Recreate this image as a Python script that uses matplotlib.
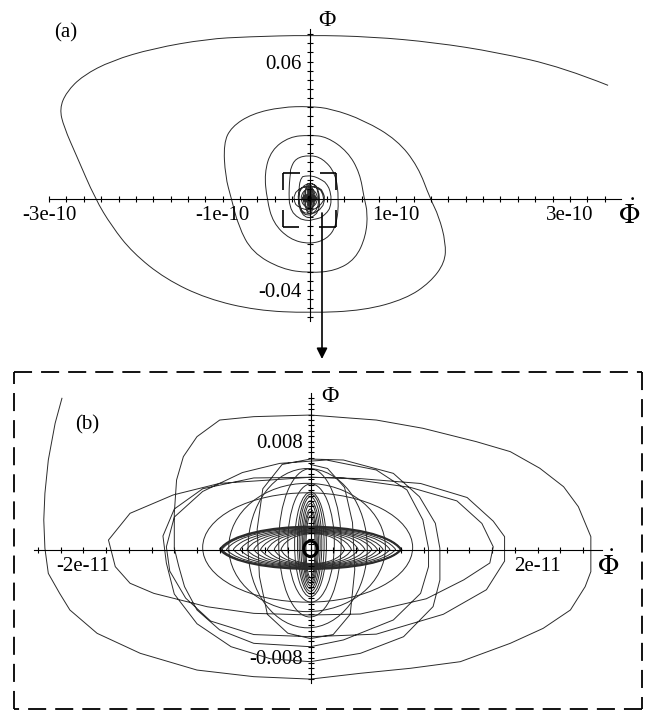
import matplotlib
matplotlib.use("Agg")
import matplotlib.pyplot as plt
import numpy as np
from matplotlib.patches import Ellipse, PathPatch, FancyArrowPatch
from matplotlib.path import Path
from matplotlib.lines import Line2D

plt.rcParams['font.family'] = ['Liberation Serif', 'DejaVu Serif']
plt.rcParams['mathtext.fontset'] = 'stix'

# ---------------- data ----------------
# Panel (a): outer spiral of the trajectory (x in units of 1e-10, y raw Phi)
a_x = [3.44, 2.92, 2.16, 1.44, 0.72, 0.00, -0.71, -1.18, -1.80, -2.28, -2.61, -2.80,
       -2.88, -2.83, -2.68, -2.47, -2.28, -2.04, -1.66, -1.18, -0.61, 0.00, 0.63, 1.11,
       1.39, 1.56, 1.57, 1.49, 1.39, 1.25, 1.01, 0.63, 0.25, 0.00, -0.32, -0.66, -0.90,
       -0.99, -0.97, -0.90, -0.82, -0.66, -0.32, 0.00, 0.30, 0.53, 0.65, 0.67, 0.63,
       0.58, 0.44, 0.20, 0.00, -0.23, -0.44, -0.52, -0.49, -0.42, -0.23, 0.00, 0.20,
       0.31, 0.34, 0.30, 0.15, 0.00, -0.16, -0.22]
a_y = [0.0496, 0.0575, 0.0641, 0.0684, 0.0709, 0.0716, 0.0709, 0.0699, 0.0658, 0.0604,
       0.0539, 0.0467, 0.0394, 0.0314, 0.0184, 0.0000, -0.0120, -0.0236, -0.0352, -0.0439,
       -0.0490, -0.0501, -0.0490, -0.0439, -0.0367, -0.0280, -0.0193, -0.0077, 0.0000,
       0.0141, 0.0257, 0.0343, 0.0394, 0.0404, 0.0401, 0.0372, 0.0314, 0.0242, 0.0097,
       0.0000, -0.0120, -0.0236, -0.0309, -0.0326, -0.0316, -0.0265, -0.0164, -0.0062,
       0.0000, 0.0112, 0.0206, 0.0271, 0.0278, 0.0271, 0.0213, 0.0112, -0.0004, -0.0106,
       -0.0178, -0.0200, -0.0178, -0.0120, -0.0004, 0.0112, 0.0177, 0.0191, 0.0177, 0.0130]

# Panel (b): inner trajectory (x in units of 1e-11, y in units of 1e-3)
b_outer = [(-2.19, 11.2), (-2.25, 9.35), (-2.31, 6.63), (-2.34, 4.16), (-2.35, 2.19),
           (-2.34, 0.09), (-2.31, -1.77), (-2.21, -3.25), (-2.12, -4.48), (-1.88, -6.21),
           (-1.50, -7.69), (-1.00, -8.93), (-0.50, -9.42), (0.00, -9.60), (0.44, -9.17),
           (0.88, -8.80), (1.32, -8.31), (1.76, -6.95), (2.05, -5.84), (2.29, -4.48),
           (2.42, -2.75), (2.47, -1.64), (2.47, 0.95), (2.36, 3.17), (2.23, 4.65),
           (2.02, 6.02), (1.76, 7.25), (1.46, 7.99), (0.99, 8.98), (0.58, 9.59),
           (0.00, 9.96), (-0.50, 9.84), (-0.80, 9.59), (-1.00, 8.36), (-1.12, 6.88),
           (-1.18, 5.15), (-1.20, 2.68), (-1.20, 0.09), (-1.16, -1.27), (-1.11, -2.75),
           (-1.00, -4.48), (-0.80, -5.96), (-0.50, -6.95), (0.00, -7.20)]
b_loop1 = [(0.29, -6.70), (0.73, -5.22), (0.97, -3.25), (1.04, -1.27), (1.04, 0.09),
           (0.99, 2.19), (0.85, 4.41), (0.58, 5.89), (0.14, 6.63), (-0.27, 6.38),
           (-0.60, 5.70), (-0.95, 4.30), (-1.20, 2.40), (-1.27, 0.20), (-1.24, -1.60),
           (-1.10, -3.60), (-0.88, -5.30), (-0.50, -6.30), (0.00, -6.46)]
b_loop2 = [(0.58, -6.27), (1.17, -4.80), (1.55, -2.98), (1.71, -0.86), (1.71, 0.95),
           (1.61, 2.10), (1.38, 3.85), (0.97, 4.89), (0.44, 5.25), (0.00, 5.35),
           (-0.80, 4.90), (-1.21, 4.04), (-1.59, 2.68), (-1.78, 0.70), (-1.72, -1.27),
           (-1.59, -2.50), (-1.38, -3.25), (-0.91, -4.24), (-0.50, -4.73), (0.00, -4.85)]
b_loop3 = [(0.44, -4.78), (1.02, -3.65), (1.35, -2.25), (1.58, -1.00), (1.61, 0.20),
           (1.51, 1.93), (1.29, 3.60), (0.88, 4.60), (0.29, 5.30), (0.00, 5.35),
           (-0.50, 5.30), (-0.95, 4.50), (-1.20, 3.00), (-1.30, 1.00), (-1.27, -1.00),
           (-1.20, -3.30), (-1.00, -5.50), (-0.70, -7.20), (-0.35, -8.10), (0.00, -8.31)]
b_loop4 = [(0.44, -7.69), (0.82, -6.46), (1.08, -4.23), (1.14, -2.26), (1.14, 0.09),
           (1.10, 1.94), (0.96, 3.91), (0.73, 5.64), (0.29, 6.63), (0.00, 6.70),
           (-0.25, 6.30), (-0.42, 4.50), (-0.47, 1.50), (-0.45, -2.00), (-0.38, -4.80),
           (-0.20, -6.20), (0.00, -6.60), (0.20, -6.30), (0.35, -4.80), (0.39, -1.50),
           (0.37, 2.00), (0.30, 4.60), (0.15, 6.00), (0.00, 6.30)]

# medium oval loops (x 1e-11, y 1e-3)
e_left = [-0.55, -0.95, -0.72]
e_right = [0.50, 0.90, 0.66]
e_bot = [-5.8, -3.9, -4.6]
e_top = [6.0, 4.2, 4.9]

# nested vertical loops (x 1e-11, y 1e-3)
v_left = [-0.28, -0.20, -0.14, -0.115, -0.10, -0.085, -0.07, -0.06, -0.05, -0.04]
v_right = [0.27, 0.21, 0.14, 0.12, 0.10, 0.085, 0.07, 0.06, 0.05, 0.04]
v_bot = [-5.0, -3.9, -3.5, -3.3, -3.1, -2.9, -2.7, -2.5, -2.3, -2.1]
v_top = [5.98, 4.86, 4.25, 4.1, 3.9, 3.6, 3.4, 3.0, 2.8, 2.5]

# nested horizontal lens-shaped loops (x 1e-11, y 1e-3)
h_left = [-0.80, -0.79, -0.78, -0.74, -0.68, -0.62, -0.56, -0.50, -0.44, -0.38, -0.32, -0.26]
h_right = [0.80, 0.80, 0.79, 0.75, 0.70, 0.64, 0.59, 0.54, 0.48, 0.42, 0.36, 0.30]
h_top = [1.70, 1.66, 1.62, 1.58, 1.52, 1.47, 1.42, 1.37, 1.32, 1.27, 1.22, 1.17]
h_bot = [-1.45, -1.42, -1.40, -1.36, -1.32, -1.28, -1.24, -1.20, -1.16, -1.12, -1.08, -1.04]

# small central ring (x 1e-11, y 1e-3)
ring_center = (0.0, 0.05)
ring_size = (0.12, 1.15)

# tick labels
a_xticks = [-3e-10, -1e-10, 1e-10, 3e-10]
a_xlabels = ['-3e-10', '-1e-10', '1e-10', '3e-10']
a_yticks = [0.06, -0.04]
a_ylabels = ['0.06', '-0.04']
b_xticks = [-2e-11, 2e-11]
b_xlabels = ['-2e-11', '2e-11']
b_yticks = [0.008, -0.008]
b_ylabels = ['0.008', '-0.008']

# ---------------- figure ----------------
W, H = 646, 713
fig = plt.figure(figsize=(W / 100, H / 100), dpi=100)
fig.patch.set_facecolor('white')

CCOL = '#2b2b2b'
CLW = 0.7


def fx(px):
    return px / W


def fy(py):
    return 1 - py / H


def make_axes(box, origin, scale, xunit, yunit):
    l, t, r, b = box
    ax = fig.add_axes([l / W, 1 - b / H, (r - l) / W, (b - t) / H])
    ox, oy = origin
    sx, sy = scale
    ax.set_xlim((l - ox) / sx * xunit, (r - ox) / sx * xunit)
    ax.set_ylim((oy - b) / sy * yunit, (oy - t) / sy * yunit)
    ax.set_facecolor('none')
    for s in ('top', 'right'):
        ax.spines[s].set_visible(False)
    for s in ('left', 'bottom'):
        ax.spines[s].set_position(('data', 0))
        ax.spines[s].set_linewidth(0.8)
    ax.tick_params(which='both', direction='inout', length=5, width=0.8,
                   labelsize=15)
    ax.tick_params(axis='x', pad=3)
    ax.tick_params(axis='y', pad=3)
    return ax


def smooth_patch(xs, ys, **kw):
    # quadratic B-spline style path through the read points (library Bezier rendering)
    verts = [(xs[0], ys[0])]
    codes = [Path.MOVETO]
    for i in range(1, len(xs) - 1):
        verts.append((xs[i], ys[i]))
        verts.append(((xs[i] + xs[i + 1]) / 2, (ys[i] + ys[i + 1]) / 2))
        codes += [Path.CURVE3, Path.CURVE3]
    verts.append((xs[-1], ys[-1]))
    codes.append(Path.LINETO)
    return PathPatch(Path(verts, codes), fill=False, **kw)


def draw_inner(ax, xu, yu):
    traj = b_outer + b_loop1 + b_loop2 + b_loop3 + b_loop4
    ax.plot([p[0] * xu for p in traj], [p[1] * yu for p in traj],
            color=CCOL, lw=CLW, solid_joinstyle='round')
    for l, r, bt, tp in zip(e_left + v_left, e_right + v_right,
                            e_bot + v_bot, e_top + v_top):
        ax.add_patch(Ellipse(((l + r) / 2 * xu, (bt + tp) / 2 * yu),
                             (r - l) * xu, (tp - bt) * yu, fill=False,
                             ec=CCOL, lw=CLW))
    for i, (l, r, tp, bt) in enumerate(zip(h_left, h_right, h_top, h_bot)):
        w = r - l
        k = 4 / 3
        verts = [(l * xu, 0),
                 ((l + 0.12 * w) * xu, k * tp * yu), ((r - 0.12 * w) * xu, k * tp * yu), (r * xu, 0),
                 ((r - 0.12 * w) * xu, k * bt * yu), ((l + 0.12 * w) * xu, k * bt * yu), (l * xu, 0)]
        codes = [Path.MOVETO, Path.CURVE4, Path.CURVE4, Path.CURVE4,
                 Path.CURVE4, Path.CURVE4, Path.CURVE4]
        ax.add_patch(PathPatch(Path(verts, codes), fill=False, ec=CCOL,
                               lw=1.3 if i == 0 else CLW))
    ax.add_patch(Ellipse((ring_center[0] * xu, ring_center[1] * yu),
                         ring_size[0] * xu, ring_size[1] * yu, fill=False,
                         ec='black', lw=2.2))


# ---- panel (a) ----
axa = make_axes((0, 0, 646, 365), (309.5, 198.6), (86.8, 22.83), 1e-10, 0.01)
axa.spines['bottom'].set_bounds(-3.0e-10, 3.59e-10)
axa.spines['left'].set_bounds(-0.0535, 0.0742)
axa.set_xticks(a_xticks)
axa.set_xticklabels(a_xlabels)
axa.set_xticks(np.arange(-15, 18) * 0.2e-10, minor=True)
axa.set_yticks(a_yticks)
axa.set_yticklabels(a_ylabels)
axa.set_yticks(np.arange(-13, 19) * 0.004, minor=True)

ax_xs = [v * 1e-10 for v in a_x] + [b_outer[0][0] * 1e-11]
ax_ys = list(a_y) + [b_outer[0][1] * 1e-3]
axa.add_patch(smooth_patch(ax_xs, ax_ys, ec=CCOL, lw=CLW))
draw_inner(axa, 1e-11, 1e-3)

# small dashed zoom box in panel (a)
bx0, bx1, by0, by1 = -0.31e-10, 0.31e-10, -0.0124, 0.011
for (p, q) in [((bx0, by1), (bx1, by1)), ((bx1, by1), (bx1, by0)),
               ((bx1, by0), (bx0, by0)), ((bx0, by0), (bx0, by1))]:
    axa.add_line(Line2D([p[0], q[0]], [p[1], q[1]], color='black', lw=1.2,
                        linestyle=(0, (10.2, 12.0))))

fig.text(fx(327), fy(20), 'Φ', ha='center', va='center', size=17)
fig.text(fx(629), fy(215), r'$\dot{\Phi}$', ha='center', va='center', size=20)
fig.text(fx(66), fy(33), '(a)', ha='center', va='center', size=15)

# ---- panel (b) ----
axb = make_axes((14, 373, 642, 708), (310.5, 549.5), (113.5, 13.5), 1e-11, 1e-3)
axb.spines['bottom'].set_bounds(-2.44e-11, 2.57e-11)
axb.spines['left'].set_bounds(-9.91e-3, 11.57e-3)
axb.set_xticks(b_xticks)
axb.set_xticklabels(b_xlabels)
axb.set_xticks(np.arange(-12, 13) * 0.2e-11, minor=True)
axb.set_yticks(b_yticks)
axb.set_yticklabels(b_ylabels)
axb.set_yticks(np.arange(-24, 29) * 0.0004, minor=True)

draw_inner(axb, 1e-11, 1e-3)

fig.text(fx(330), fy(397), 'Φ', ha='center', va='center', size=17)
fig.text(fx(608), fy(566), r'$\dot{\Phi}$', ha='center', va='center', size=20)
fig.text(fx(87), fy(425), '(b)', ha='center', va='center', size=15)

# big dashed box around panel (b)
L, T, R, B = 14, 372, 642, 709
for (p, q) in [((L, T), (R, T)), ((R, T), (R, B)), ((R, B), (L, B)), ((L, B), (L, T))]:
    fig.add_artist(Line2D([fx(p[0]), fx(q[0])], [fy(p[1]), fy(q[1])],
                          transform=fig.transFigure, color='black', lw=1.3,
                          linestyle=(0, (10, 5))))

# arrow from zoom box to panel (b)
fig.add_artist(FancyArrowPatch((fx(322), fy(213)), (fx(322), fy(359)),
                               transform=fig.transFigure, arrowstyle='-|>',
                               mutation_scale=16, lw=1.2, color='black',
                               shrinkA=0, shrinkB=0))

fig.savefig('out.png', dpi=100, facecolor='white')
